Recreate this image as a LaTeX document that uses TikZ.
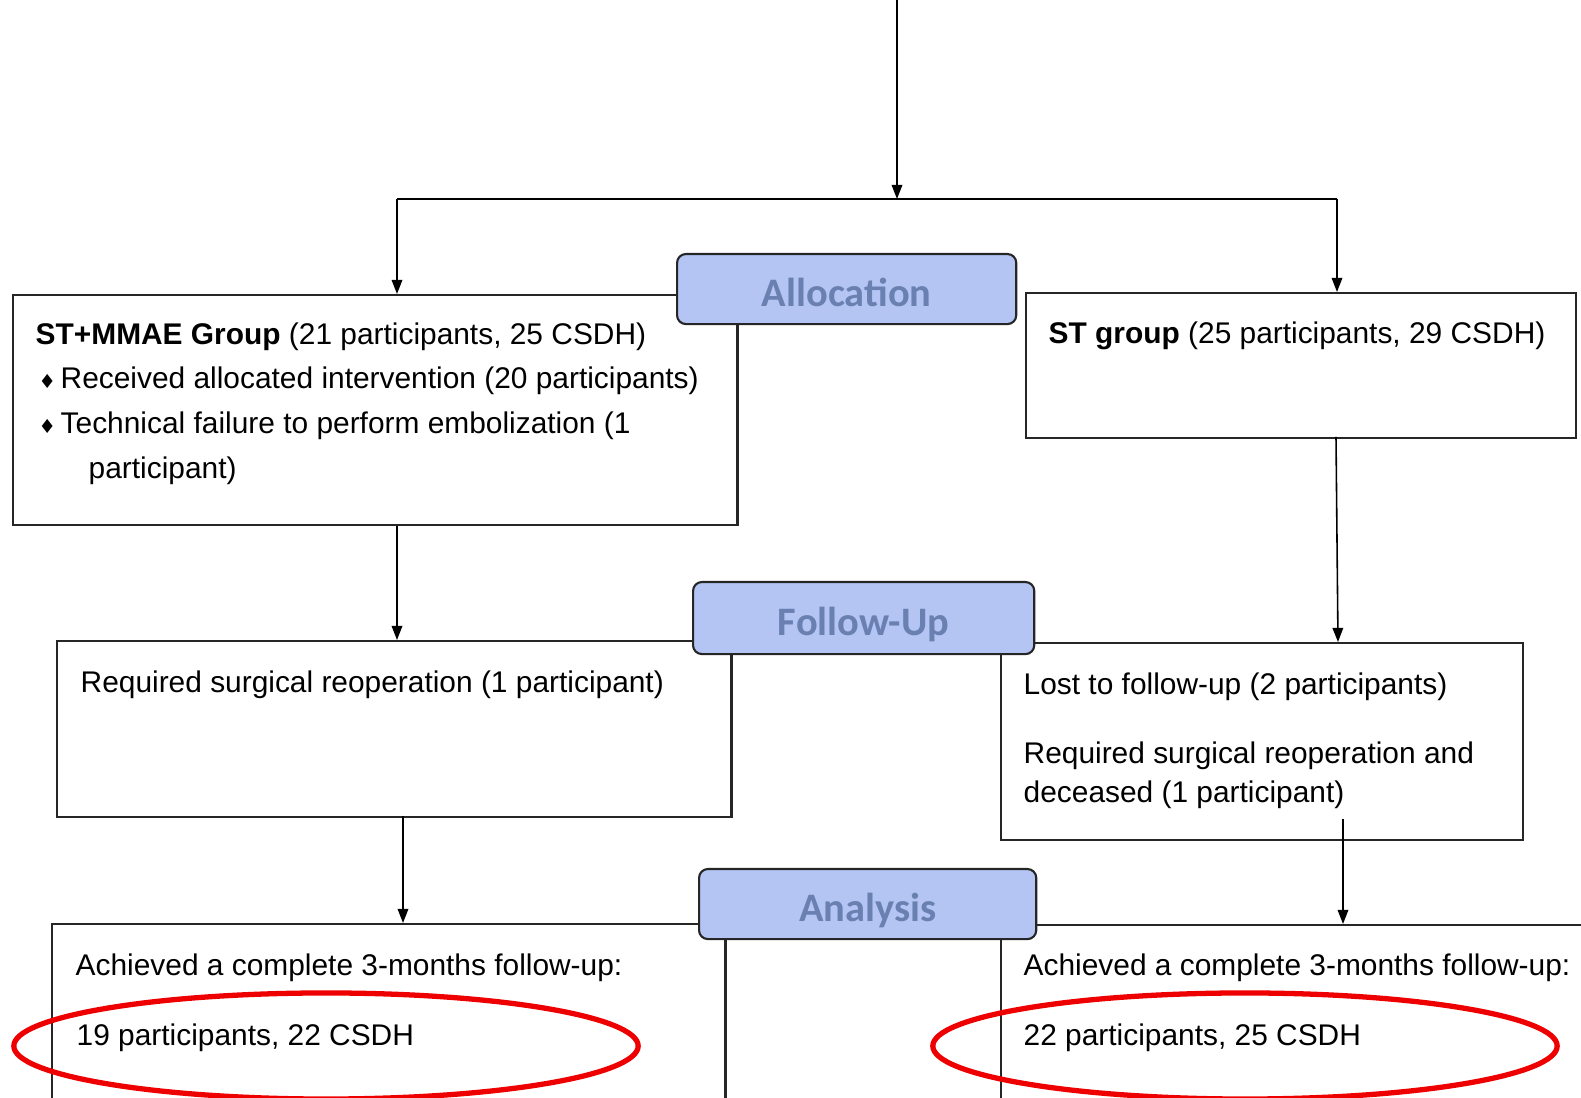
\documentclass[tikz,border=0pt]{standalone}
\usepackage{fontspec}
\setmainfont{Liberation Sans}
\newfontfamily\stagefont{Carlito}
\newfontfamily\symfont{DejaVu Sans}
\usetikzlibrary{arrows.meta}
\definecolor{stagefill}{HTML}{B4C5F4}
\definecolor{stagetext}{HTML}{6A80B0}
\definecolor{ringred}{HTML}{EE0000}
\tikzset{
	box/.style={draw=black!85, line width=0.6pt, fill=white, anchor=north west, inner sep=0pt},
	stage/.style={draw=black!85, line width=0.6pt, fill=stagefill, rounded corners=2.5pt, text=stagetext,
		font=\stagefont\bfseries\fontsize{11.5}{13}\selectfont, text height=10pt, text depth=0pt,
		anchor=north west, inner sep=0pt},
	txt/.style={anchor=base west, inner sep=0pt, font=\fontsize{8.5}{10}\selectfont},
	dot/.style={anchor=base west, inner sep=0pt, font=\symfont\fontsize{5.5}{6}\selectfont},
	flow/.style={-{Triangle[length=4pt,width=3pt]}, line width=0.45pt},
	ring/.style={draw=ringred, line width=1.5pt},
}
\begin{document}
\begin{tikzpicture}[x=0.01cm, y=-0.01cm]
	\useasboundingbox (0,0) rectangle (1581,1098);
	\clip (0,0) rectangle (1581,1098);

	% boxes
	\node[box, minimum width=7.24cm, minimum height=2.30cm] (grpL) at (12,294)   {};
	\node[box, minimum width=5.50cm, minimum height=1.45cm] (grpR) at (1025,292) {};
	\node[box, minimum width=6.74cm, minimum height=1.76cm] (fuL)  at (56,640)   {};
	\node[box, minimum width=5.22cm, minimum height=1.97cm] (fuR)  at (1000,642) {};
	\node[box, minimum width=6.73cm, minimum height=2.20cm] (anL)  at (51,923)   {};
	\node[box, minimum width=6.20cm, minimum height=2.20cm] (anR)  at (1000,924) {};

	% texts
	\node[txt] (grpLa) at (35,345)  {\textbf{ST+MMAE Group} (21 participants, 25 CSDH)};
	\node[dot] (dot1)  at (38,389)  {♦};
	\node[txt] (grpLb) at (60,389)  {Received allocated intervention (20 participants)};
	\node[dot] (dot2)  at (38,434)  {♦};
	\node[txt] (grpLc) at (60,434)  {Technical failure to perform embolization (1};
	\node[txt] (grpLd) at (88,479)  {participant)};
	\node[txt] (grpRa) at (1048,344) {\textbf{ST group} (25 participants, 29 CSDH)};
	\node[txt] (fuLa)  at (80,693)   {Required surgical reoperation (1 participant)};
	\node[txt] (fuRa)  at (1023,695) {Lost to follow-up (2 participants)};
	\node[txt] (fuRb)  at (1023,764) {Required surgical reoperation and};
	\node[txt] (fuRc)  at (1023,803) {deceased (1 participant)};
	\node[txt] (anLa)  at (75,976)   {Achieved a complete 3-months follow-up:};
	\node[txt] (anLb)  at (76,1046)  {19 participants, 22 CSDH};
	\node[txt] (anRa)  at (1023,976) {Achieved a complete 3-months follow-up:};
	\node[txt] (anRb)  at (1023,1046) {22 participants, 25 CSDH};

	% connectors
	\coordinate (src)    at (897,0);
	\coordinate (fork)   at (897,199);
	\coordinate (forkL)  at (397,199);
	\coordinate (forkR)  at (1337,199);
	\coordinate (grpRout) at (1336,437);
	\coordinate (fuRin)  at (1338,642);
	\coordinate (fuLout) at (403,816);
	\coordinate (fuRout) at (1343,819);

	\path [flow] (src) edge (fork);
	\path [-, line width=0.45pt] (forkL) edge (forkR);
	\path [flow] (forkL) edge (forkL |- grpL.north);
	\path [flow] (forkR) edge (forkR |- grpR.north);
	\path [flow] (grpL.south -| forkL) edge (forkL |- fuL.north);
	\path [flow] (grpRout) edge (fuRin);
	\path [flow] (fuLout) edge (fuLout |- anL.north);
	\path [flow] (fuRout) edge (fuRout |- anR.north);

	% stages
	\node[stage, minimum width=3.39cm, minimum height=0.70cm] (alloc)    at (676,253) {Allocation};
	\node[stage, minimum width=3.41cm, minimum height=0.72cm] (follow)   at (692,581) {Follow-Up};
	\node[stage, minimum width=3.37cm, minimum height=0.70cm] (analysis) at (698,868) {Analysis};

	% rings
	\draw[ring] (326,1046) ellipse [x radius=3.12cm, y radius=0.53cm];
	\draw[ring] (1245,1046) ellipse [x radius=3.12cm, y radius=0.53cm];
\end{tikzpicture}
\end{document}
